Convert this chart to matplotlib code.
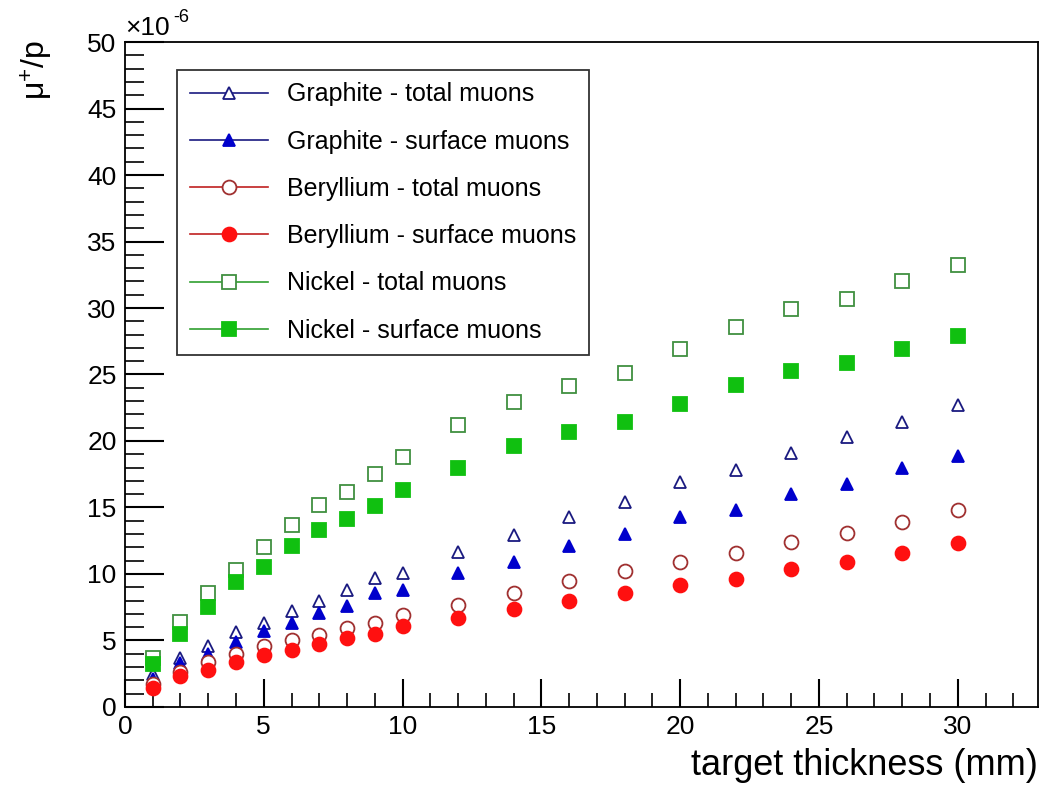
import matplotlib.pyplot as plt
from matplotlib.ticker import MultipleLocator

plt.rcParams['font.family'] = ['Liberation Sans', 'DejaVu Sans']

# target thickness (mm)
thickness = [1, 2, 3, 4, 5, 6, 7, 8, 9, 10, 12, 14, 16, 18, 20, 22, 24, 26, 28, 30]

# muons per proton, units of 1e-6
graphite_total = [2.5, 3.7, 4.6, 5.6, 6.3, 7.2, 8.0, 8.8, 9.7, 10.1,
                  11.65, 12.9, 14.3, 15.4, 16.9, 17.8, 19.1, 20.3, 21.4, 22.7]
graphite_surface = [2.1, 3.3, 4.0, 4.9, 5.7, 6.3, 7.1, 7.6, 8.6, 8.8,
                    10.1, 10.9, 12.1, 13.0, 14.3, 14.8, 16.0, 16.8, 18.0, 18.9]
beryllium_total = [1.7, 2.6, 3.4, 4.0, 4.6, 5.0, 5.4, 5.9, 6.3, 6.9,
                   7.7, 8.6, 9.5, 10.2, 10.9, 11.6, 12.4, 13.1, 13.9, 14.8]
beryllium_surface = [1.4, 2.3, 2.8, 3.4, 3.9, 4.3, 4.7, 5.2, 5.5, 6.1,
                     6.7, 7.4, 8.0, 8.6, 9.2, 9.6, 10.4, 10.9, 11.6, 12.3]
nickel_total = [3.7, 6.4, 8.6, 10.3, 12.0, 13.7, 15.2, 16.2, 17.5, 18.8,
                21.2, 22.9, 24.1, 25.1, 26.9, 28.6, 29.9, 30.7, 32.0, 33.2]
nickel_surface = [3.2, 5.5, 7.5, 9.4, 10.5, 12.1, 13.3, 14.1, 15.1, 16.3,
                  18.0, 19.6, 20.7, 21.4, 22.8, 24.2, 25.3, 25.9, 26.9, 27.9]

labels = ['Graphite - total muons', 'Graphite - surface muons',
          'Beryllium - total muons', 'Beryllium - surface muons',
          'Nickel - total muons', 'Nickel - surface muons']

fig = plt.figure(figsize=(10.44, 7.93), dpi=100)
ax = fig.add_axes([0.1197, 0.1085, 0.8748, 0.8385])

blue = '#0000cc'
navy = '#1a1a80'
red = '#ff1010'
green = '#10c010'

series = [
    (graphite_total, '^', 'white', navy, navy, 9),
    (graphite_surface, '^', blue, blue, navy, 9),
    (beryllium_total, 'o', 'white', '#a03030', '#c02020', 10),
    (beryllium_surface, 'o', red, red, '#c02020', 10),
    (nickel_total, 's', 'white', '#409040', '#30a030', 10),
    (nickel_surface, 's', green, green, '#30a030', 10),
]

for (vals, mk, fc, ec, lc, ms), lab in zip(series, labels):
    ax.plot(thickness, vals, linestyle='none', marker=mk, markersize=ms,
            markerfacecolor=fc, markeredgecolor=ec, markeredgewidth=1.3)
    # legend proxy with line through marker
    ax.plot([], [], color=lc, linewidth=1.2, marker=mk, markersize=ms,
            markerfacecolor=fc, markeredgecolor=ec, markeredgewidth=1.3, label=lab)

ax.set_xlim(0, 32.9)
ax.set_ylim(0, 50)
ax.xaxis.set_major_locator(MultipleLocator(5))
ax.xaxis.set_minor_locator(MultipleLocator(1))
ax.yaxis.set_major_locator(MultipleLocator(5))
ax.yaxis.set_minor_locator(MultipleLocator(1))
ax.tick_params(axis='both', which='both', direction='in', top=False, right=False,
               labelsize=19, color='black')
ax.tick_params(axis='y', which='major', length=28, width=1.5, pad=6)
ax.tick_params(axis='y', which='minor', length=14, width=1.2)
ax.tick_params(axis='x', which='major', length=20, width=1.5, pad=6)
ax.tick_params(axis='x', which='minor', length=10, width=1.2)
for s in ax.spines.values():
    s.set_linewidth(1.3)

# exponent label, ROOT style with a short hyphen
ax.text(0.0, 1.003, '\u00d710', transform=ax.transAxes,
        fontsize=19, ha='left', va='bottom')
ax.annotate('-6', xy=(0.0, 1.003), xycoords='axes fraction', xytext=(35, 10),
            textcoords='offset points', fontsize=13, ha='left', va='bottom')

fig.text(0.994, 0.012, 'target thickness (mm)', fontsize=26, ha='right', va='bottom')
fig.text(0.035, 0.95, r'$\mathregular{\mu^{+}/p}$', fontsize=23, rotation=90,
         ha='center', va='top')

leg = ax.legend(loc='upper left', bbox_to_anchor=(0.057, 0.958), fontsize=18,
                frameon=True, fancybox=False, edgecolor='black', borderpad=0.5,
                labelspacing=0.93, handlelength=3.15, handletextpad=0.75,
                borderaxespad=0)
leg.get_frame().set_linewidth(1.3)

fig.savefig('out.png', dpi=100)
